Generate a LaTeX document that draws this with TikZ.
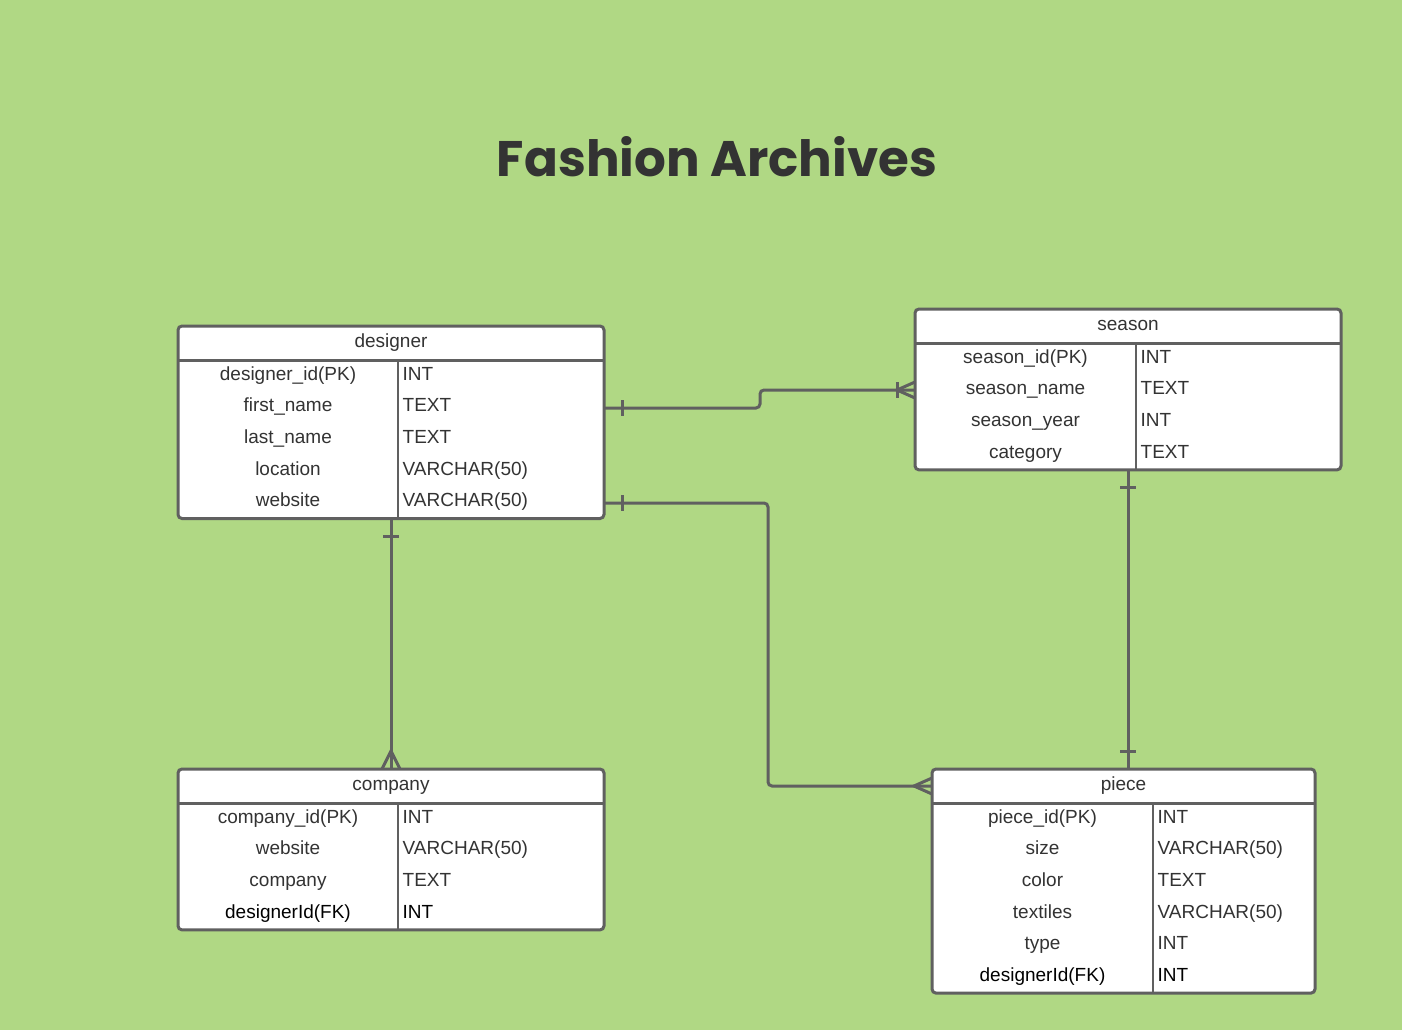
\documentclass[tikz,border=0pt]{standalone}
\usepackage{fontspec}
\setmainfont{Liberation Sans}
\newfontfamily\titlefont{Poppins}
\usetikzlibrary{calc}
\definecolor{bg}{RGB}{176,216,132}
\definecolor{ln}{RGB}{96,96,96}
\definecolor{txtc}{RGB}{51,51,51}
\definecolor{ttl}{RGB}{51,51,51}
\tikzset{
  tbox/.style={draw=ln, fill=white, line width=3pt, rounded corners=4pt, outer sep=0pt, inner sep=0pt},
  innerln/.style={draw=ln, line width=2.5pt},
  conn/.style={draw=ln, line width=3pt},
  txt/.style={inner sep=0pt, font=\fontsize{19}{22}\selectfont},
}
% #1 name, #2 x, #3 y, #4 width, #5 divider offset, #6 rows, #7 title, #8 rows list
\newcommand\erTable[8]{%
  \node[tbox, minimum width=#4, minimum height={34.5+31.6*#6}, anchor=north west] (#1) at (#2,#3) {};
  \draw[innerln] ($(#1.north west)+(0,34.5)$) -- ($(#1.north east)+(0,34.5)$);
  \draw[innerln] ($(#1.north west)+(#5,34.5)$) -- ($(#1.south west)+(#5,0)$);
  \node[txt, text=txtc, anchor=base] (#1-title) at ($(#1.north)+(0,21.5)$) {#7};
  \foreach \a/\b/\c [count=\i from 0] in {#8}{
    \node[txt, text=\c, anchor=base] (#1-k\i) at ($(#1.north west)+({#5/2},{34.5+31.6*\i+19.8})$) {\a};
    \node[txt, text=\c, anchor=base west] (#1-t\i) at ($(#1.north west)+({#5+4.5},{34.5+31.6*\i+19.8})$) {\b};
  }
}
\begin{document}
\begin{tikzpicture}[x=1pt,y=-1pt]
\fill[bg] (0,0) rectangle (1402,1030);
\useasboundingbox (0,0) rectangle (1402,1030);

\node[text=ttl, inner sep=0pt, anchor=base] (title) at (717,176)
  {\resizebox{440pt}{40pt}{\titlefont\bfseries Fashion Archives}};

\erTable{designer}{178}{326}{426}{220}{5}{designer}{designer\_id(PK)/INT/txtc, first\_name/TEXT/txtc, last\_name/TEXT/txtc, location/VARCHAR(50)/txtc, website/VARCHAR(50)/txtc}
\erTable{season}{915}{309}{426}{221}{4}{season}{season\_id(PK)/INT/txtc, season\_name/TEXT/txtc, season\_year/INT/txtc, category/TEXT/txtc}
\erTable{company}{178}{769}{426}{220}{4}{company}{company\_id(PK)/INT/txtc, website/VARCHAR(50)/txtc, company/TEXT/txtc, designerId(FK)/INT/black}
\erTable{piece}{932}{769}{383}{221}{6}{piece}{piece\_id(PK)/INT/txtc, size/VARCHAR(50)/txtc, color/TEXT/txtc, textiles/VARCHAR(50)/txtc, type/INT/txtc, designerId(FK)/INT/black}

% connector end points
\coordinate (d1) at (designer.east |- 0,408);
\coordinate (s1) at (season.west |- 0,390);
\coordinate (d2) at (designer.east |- 0,503);
\coordinate (p1) at (piece.west |- 0,786);
\coordinate (d3) at (designer.south);
\coordinate (c1) at (company.north);
\coordinate (s2) at (season.south);
\coordinate (p2) at (piece.north -| season.south);

% designer -- season
\draw[conn, rounded corners=4pt] (d1) -- (760,408) -- (760,390) -- (s1);
\draw[conn] ($(d1)+(18,-8)$) -- ++(0,16);
\draw[conn] ($(s1)+(-18,-8)$) -- ++(0,16);
\draw[conn] ($(s1)+(0,-8)$) -- ($(s1)+(-18,0)$) -- ($(s1)+(0,8)$);

% designer -- piece
\draw[conn, rounded corners=4pt] (d2) -- (768,503) -- (768,786) -- (p1);
\draw[conn] ($(d2)+(18,-8)$) -- ++(0,16);
\draw[conn] ($(p1)+(0,-8)$) -- ($(p1)+(-18,0)$) -- ($(p1)+(0,8)$);

% designer -- company
\draw[conn] (d3) -- (c1);
\draw[conn] ($(d3)+(-8,18)$) -- ++(16,0);
\draw[conn] ($(c1)+(-9,0)$) -- ($(c1)+(0,-18)$) -- ($(c1)+(9,0)$);

% season -- piece
\draw[conn] (s2) -- (p2);
\draw[conn] ($(s2)+(-8,18)$) -- ++(16,0);
\draw[conn] ($(p2)+(-8,-18)$) -- ++(16,0);
\end{tikzpicture}
\end{document}
